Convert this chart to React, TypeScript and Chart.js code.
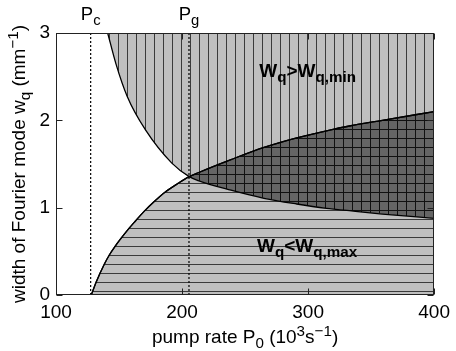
import React, { useEffect, useRef } from "react";
import { Chart, registerables } from "chart.js";

Chart.register(...registerables);

// ---------- data ----------
const xTickValues = [100, 200, 300, 400];
const yTickValues = [0, 1, 2, 3];
const P_C = 127.5; // critical pump rate
const P_G = 205.5; // pump rate where curves meet

// lower bound of stable width: w_q,min(P0)
const wMinP = [141, 147.5, 156.6, 171, 191.9, 205.7, 212.8, 238.8, 265, 291, 314.6, 332.8, 358.9, 400];
const wMinW = [3.0, 2.65, 2.27, 1.89, 1.51, 1.355, 1.31, 1.2, 1.107, 1.042, 0.993, 0.965, 0.927, 0.878];

// upper bound of stable width: w_q,max(P0)
const wMaxP = [128, 131.9, 138.4, 142.3, 147, 151.4, 156.6, 163.2, 169.7, 177.5, 186.7, 196, 205.7, 212.8, 238.8, 265, 291, 314.6, 332.8, 358.9, 400];
const wMaxW = [0, 0.149, 0.355, 0.458, 0.56, 0.645, 0.74, 0.85, 0.955, 1.065, 1.18, 1.27, 1.355, 1.4, 1.55, 1.69, 1.8, 1.88, 1.935, 2.0, 2.1];

// annotation anchors (data coordinates)
const annMinAt = { x: 261.3, y: 2.5 };
const annMaxAt = { x: 259.5, y: 0.49 };

// ---------- styles ----------
const FONT = "'Liberation Sans', Arial, Helvetica, sans-serif";
const LIGHT = "#bfbfbf";
const DARK = "#656565";
const LINE_LIGHT = "#3a3a3a";
const LINE_DARK = "#111111";

type Part = { t: string; k?: "sub" | "sup" };

function partFont(size: number, weight: string, k?: string) {
  const s = k ? size * 0.8 : size;
  return `${weight} ${s}px ${FONT}`;
}

function richWidth(ctx: CanvasRenderingContext2D, parts: Part[], size: number, weight: string) {
  let w = 0;
  for (const p of parts) {
    ctx.font = partFont(size, weight, p.k);
    w += ctx.measureText(p.t).width;
  }
  return w;
}

function drawRich(
  ctx: CanvasRenderingContext2D,
  parts: Part[],
  x: number,
  y: number,
  size: number,
  weight: string,
  align: "left" | "center"
) {
  const total = richWidth(ctx, parts, size, weight);
  let cx = align === "center" ? x - total / 2 : x;
  ctx.textAlign = "left";
  ctx.textBaseline = "alphabetic";
  for (const p of parts) {
    ctx.font = partFont(size, weight, p.k);
    const dy = p.k === "sub" ? size * 0.27 : p.k === "sup" ? -size * 0.38 : 0;
    ctx.fillText(p.t, cx, y + dy);
    cx += ctx.measureText(p.t).width;
  }
}

function makePattern(
  ctx: CanvasRenderingContext2D,
  bg: string,
  fg: string,
  vert: boolean,
  horiz: boolean
) {
  const c = document.createElement("canvas");
  c.width = 9;
  c.height = 9;
  const g = c.getContext("2d")!;
  g.fillStyle = bg;
  g.fillRect(0, 0, 9, 9);
  g.fillStyle = fg;
  if (vert) g.fillRect(0, 0, 1, 9);
  if (horiz) g.fillRect(0, 0, 9, 1);
  const p = ctx.createPattern(c, "repeat")!;
  p.setTransform(new DOMMatrix([1, 0, 0, 1, 1, 3]));
  return p;
}

const decoPlugin = {
  id: "deco",
  afterDatasetsDraw(chart: any) {
    const { ctx, chartArea: a, scales } = chart;
    const x = scales.x;
    const y = scales.y;
    const L = Math.round(a.left) + 0.5;
    const R = Math.round(a.right) - 0.5;
    const T = Math.round(a.top) + 0.5;
    const B = Math.round(a.bottom) - 0.5;
    ctx.save();
    ctx.strokeStyle = "#222";
    ctx.lineWidth = 1;
    ctx.beginPath();
    for (const v of xTickValues) {
      const px = Math.round(x.getPixelForValue(v)) + 0.5;
      ctx.moveTo(px, B);
      ctx.lineTo(px, B - 6);
      ctx.moveTo(px, T);
      ctx.lineTo(px, T + 6);
    }
    for (const v of yTickValues) {
      const py = Math.round(y.getPixelForValue(v)) + 0.5;
      ctx.moveTo(L, py);
      ctx.lineTo(L + 6, py);
      ctx.moveTo(R, py);
      ctx.lineTo(R - 6, py);
    }
    ctx.stroke();
    ctx.strokeRect(L, T, R - L, B - T);

    ctx.fillStyle = "#000";
    // P_c and P_g labels
    drawRich(ctx, [{ t: "P" }, { t: "c", k: "sub" }], x.getPixelForValue(P_C), 20, 18.5, "normal", "center");
    drawRich(ctx, [{ t: "P" }, { t: "g", k: "sub" }], x.getPixelForValue(P_G), 20, 18.5, "normal", "center");

    // region annotations
    drawRich(
      ctx,
      [{ t: "W" }, { t: "q", k: "sub" }, { t: ">" }, { t: "W" }, { t: "q,min", k: "sub" }],
      x.getPixelForValue(annMinAt.x),
      y.getPixelForValue(annMinAt.y),
      19,
      "bold",
      "left"
    );
    drawRich(
      ctx,
      [{ t: "W" }, { t: "q", k: "sub" }, { t: "<" }, { t: "W" }, { t: "q,max", k: "sub" }],
      x.getPixelForValue(annMaxAt.x),
      y.getPixelForValue(annMaxAt.y),
      19,
      "bold",
      "left"
    );

    // axis titles
    const cx = (a.left + a.right) / 2;
    const cy = (a.top + a.bottom) / 2;
    drawRich(
      ctx,
      [
        { t: "pump rate P" },
        { t: "0", k: "sub" },
        { t: " (10" },
        { t: "3", k: "sup" },
        { t: "s" },
        { t: "\u22121", k: "sup" },
        { t: ")" },
      ],
      cx,
      343,
      19,
      "normal",
      "center"
    );
    ctx.save();
    ctx.translate(25, cy);
    ctx.rotate(-Math.PI / 2);
    drawRich(
      ctx,
      [
        { t: "width of Fourier mode w" },
        { t: "q", k: "sub" },
        { t: " (mm" },
        { t: "\u22121", k: "sup" },
        { t: ")" },
      ],
      0,
      0,
      19,
      "normal",
      "center"
    );
    ctx.restore();
    ctx.restore();
  },
};

export default function App() {
  const ref = useRef<HTMLCanvasElement>(null);

  useEffect(() => {
    const canvas = ref.current!;
    const ctx = canvas.getContext("2d")!;
    const vertPat = makePattern(ctx, LIGHT, LINE_LIGHT, true, false);
    const horizPat = makePattern(ctx, LIGHT, LINE_LIGHT, false, true);
    const crossPat = makePattern(ctx, DARK, LINE_DARK, true, true);

    const wMinData = wMinP.map((p, i) => ({ x: p, y: wMinW[i] }));
    const wMaxData = wMaxP.map((p, i) => ({ x: p, y: wMaxW[i] }));

    const curve = {
      borderColor: "#000",
      borderWidth: 1.3,
      pointRadius: 0,
      cubicInterpolationMode: "monotone" as const,
    };
    const dotted = {
      borderColor: "#000",
      borderWidth: 1.2,
      borderDash: [2, 2],
      pointRadius: 0,
      fill: false,
    };

    const chart = new Chart(canvas, {
      type: "line",
      data: {
        datasets: [
          { label: "Pc", data: [{ x: P_C, y: 0 }, { x: P_C, y: 3 }], ...dotted },
          { label: "Pg", data: [{ x: P_G, y: 0 }, { x: P_G, y: 3 }], ...dotted },
          {
            label: "overlap",
            data: wMaxData,
            ...curve,
            fill: { target: 4, above: crossPat, below: "rgba(0,0,0,0)" },
          },
          { label: "wq,max", data: wMaxData, ...curve, fill: "start", backgroundColor: horizPat },
          { label: "wq,min", data: wMinData, ...curve, fill: "end", backgroundColor: vertPat },
        ] as any,
      },
      options: {
        responsive: false,
        animation: false,
        devicePixelRatio: 1,
        layout: { padding: { top: 33, right: 17, left: 0, bottom: 0 } },
        plugins: {
          legend: { display: false },
          tooltip: { enabled: false },
          filler: { drawTime: "beforeDatasetsDraw" } as any,
        },
        scales: {
          x: {
            type: "linear",
            min: 100,
            max: 400,
            grid: { display: false, drawTicks: false },
            border: { display: false },
            ticks: {
              stepSize: 100,
              color: "#000",
              padding: 6,
              maxRotation: 0,
              font: { family: FONT, size: 19 },
            },
            afterFit: (s: any) => {
              s.height = 56;
            },
          },
          y: {
            type: "linear",
            min: 0,
            max: 3,
            grid: { display: false, drawTicks: false },
            border: { display: false },
            ticks: {
              stepSize: 1,
              color: "#000",
              padding: 6,
              font: { family: FONT, size: 19 },
            },
            afterFit: (s: any) => {
              s.width = 56;
            },
          },
        },
      },
      plugins: [decoPlugin],
    });
    return () => chart.destroy();
  }, []);

  return (
    <div style={{ position: "absolute", left: 0, top: 0, width: 456, height: 351 }}>
      <canvas ref={ref} width={456} height={351} style={{ display: "block", width: 456, height: 351 }} />
    </div>
  );
}
